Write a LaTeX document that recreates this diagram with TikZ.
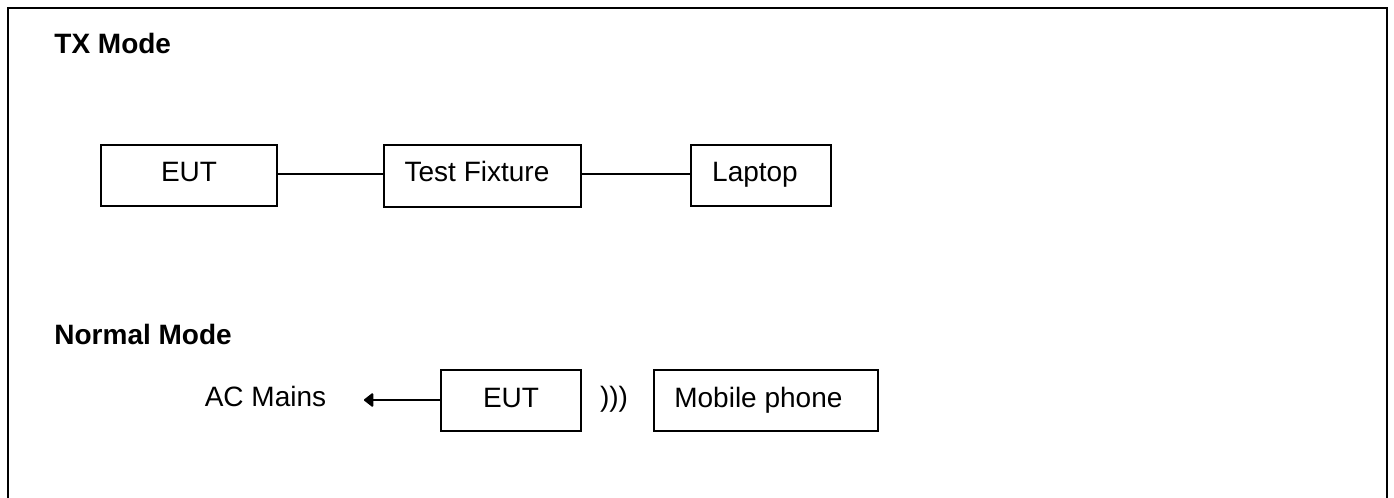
\documentclass[tikz,border=0pt]{standalone}
\usepackage{fontspec}
\setmainfont{Liberation Sans}
\usetikzlibrary{arrows.meta}
\tikzset{
  x=0.5pt,y=-0.5pt,
  box/.style={draw,line width=0.85pt,rectangle,inner sep=0pt,outer sep=0pt,anchor=north west,text depth=2pt,font=\fontsize{14}{16}\selectfont},
  txt/.style={inner sep=0pt,anchor=base,font=\fontsize{14}{16}\selectfont},
  head/.style={inner sep=0pt,anchor=base west,font=\fontsize{14}{16}\selectfont\bfseries},
  wire/.style={line width=1pt},
  frame/.style={line width=1pt,line cap=butt}
}
\begin{document}
\begin{tikzpicture}
\useasboundingbox (0,0) rectangle (1394,498);
\coordinate (fa) at (7.5,498);
\coordinate (fb) at (7.5,8);
\coordinate (fc) at (1387,8);
\coordinate (fd) at (1387,498);
\draw[frame] (fa) -- (fb) -- (fc) -- (fd);
\node[head] (tx) at (54,54) {TX Mode};
\node[head] (nm) at (54,344) {Normal Mode};
\node[box,text height=8.4pt,minimum width=88pt,minimum height=30.5pt] (e1) at (101,145) {EUT};
\node[box,text height=7.7pt,minimum width=98.5pt,minimum height=31pt] (tf) at (384,145) {\kern-5.5ptTest Fixture};
\node[box,text height=8.2pt,minimum width=70pt,minimum height=30.5pt] (lp) at (691,145) {\kern-6ptLaptop};
\coordinate (wy) at (0,174.3);
\draw[wire] (e1.east |- wy) -- (tf.west |- wy);
\draw[wire] (tf.east |- wy) -- (lp.west |- wy);
\node[txt] (ac) at (265.5,406.7) {AC Mains};
\node[box,text height=9.2pt,minimum width=69.8pt,minimum height=30.5pt] (e2) at (441.2,370) {EUT};
\node[txt] (w) at (614,406) {)))};
\node[box,text height=9.2pt,minimum width=112.2pt,minimum height=30.5pt] (mp) at (653.7,370) {\kern-7.5ptMobile phone};
\coordinate (tip) at (364,400);
\draw[wire,-{Triangle[length=5pt,width=7.5pt,round]}] (e2.west |- tip) -- (tip);
\end{tikzpicture}
\end{document}
